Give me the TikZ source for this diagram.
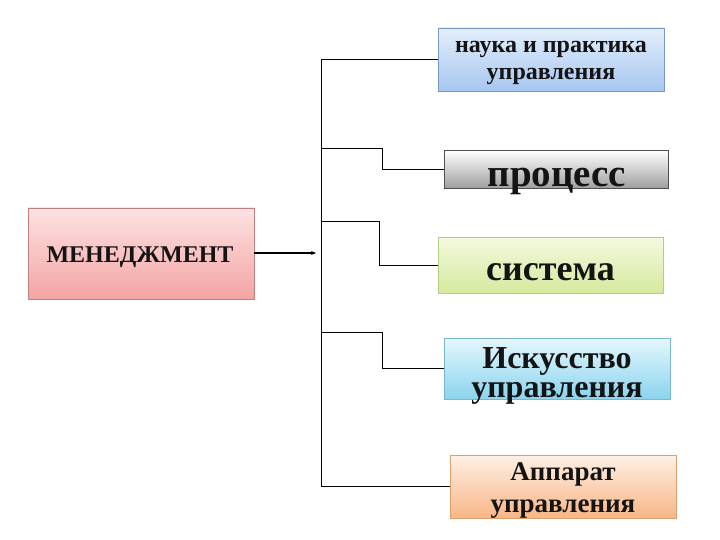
\documentclass[tikz,border=0pt]{standalone}
\usepackage{fontspec}
\setmainfont{Liberation Serif}
\usetikzlibrary{arrows.meta}
\definecolor{pinkT}{HTML}{FDE2E2}
\definecolor{pinkB}{HTML}{F4A4A4}
\definecolor{pinkD}{HTML}{C08080}
\definecolor{blueT}{HTML}{E4EFFC}
\definecolor{blueB}{HTML}{A6C6F0}
\definecolor{blueD}{HTML}{7A98C4}
\definecolor{grayT}{HTML}{FFFFFF}
\definecolor{grayB}{HTML}{9E9E9E}
\definecolor{grayD}{HTML}{505050}
\definecolor{greenT}{HTML}{F4F9DE}
\definecolor{greenB}{HTML}{D4EA9E}
\definecolor{greenD}{HTML}{B4CC86}
\definecolor{cyanT}{HTML}{E6F7FD}
\definecolor{cyanB}{HTML}{8AD4EE}
\definecolor{cyanD}{HTML}{7CB6CE}
\definecolor{orT}{HTML}{FEF0E4}
\definecolor{orB}{HTML}{F8B686}
\definecolor{orD}{HTML}{DCA070}
\tikzset{
  box/.style={draw, line width=0.8pt, inner sep=0pt, rectangle},
  lbl/.style={inner sep=0pt, anchor=base, font=\bfseries, text=black!92, align=center},
  conn/.style={draw=black, line width=0.9pt},
}
\begin{document}
\begin{tikzpicture}[x=1pt,y=-1pt]
\useasboundingbox (0,0) rectangle (720,540);
% boxes
\node[box, draw=pinkD, top color=pinkT, bottom color=pinkB, minimum width=226pt, minimum height=91pt] (L) at (141,253.5) {};
\node[box, draw=blueD, top color=blueT, bottom color=blueB, minimum width=226pt, minimum height=63pt] (B1) at (551,59.5) {};
\node[box, draw=grayD, top color=grayT, bottom color=grayB, minimum width=224pt, minimum height=38pt] (B2) at (556,169.5) {};
\node[box, draw=greenD, top color=greenT, bottom color=greenB, minimum width=225pt, minimum height=56pt] (B3) at (550.5,265) {};
\node[box, draw=cyanD, top color=cyanT, bottom color=cyanB, minimum width=226pt, minimum height=61pt] (B4) at (557,368.5) {};
\node[box, draw=orD, top color=orT, bottom color=orB, minimum width=226pt, minimum height=63pt] (B5) at (563,486.5) {};
% texts
\node[lbl, font=\bfseries\fontsize{24}{26}\selectfont] (tL) at (140,262) {МЕНЕДЖМЕНТ};
\node[lbl, font=\bfseries\fontsize{24}{27}\selectfont] (t1) at (551,80) {наука и практика\\управления};
\node[lbl, font=\bfseries\fontsize{39}{44}\selectfont] (t2) at (557,187) {процесс};
\node[lbl, font=\bfseries\fontsize{36}{38}\selectfont] (t3) at (550.5,280) {система};
\node[lbl, font=\bfseries\fontsize{32}{29}\selectfont] (t4) at (557,397) {Искусство\\управления};
\node[lbl, font=\bfseries\fontsize{27}{32}\selectfont] (t5) at (563,512) {Аппарат\\управления};
% trunk coordinates
\coordinate (a1) at (321,59.5);
\coordinate (a2) at (321,148);
\coordinate (a3) at (321,221);
\coordinate (a4) at (321,332);
\coordinate (a5) at (321,486.5);
\coordinate (e2) at (382,148);
\coordinate (e3) at (379,221);
\coordinate (e4) at (382,332);
\coordinate (arr) at (316,253);
% connectors
\draw[conn] (a1) -- (a5);
\draw[conn] (a1) -- (B1.west);
\draw[conn] (a2) -- (e2) |- (B2.west);
\draw[conn] (a3) -- (e3) |- (B3.west);
\draw[conn] (a4) -- (e4) |- (B4.west);
\draw[conn] (a5) -- (B5.west);
\draw[line width=1.4pt, -{Stealth[length=5pt,width=4pt]}] (L.east |- arr) -- (arr);
\end{tikzpicture}
\end{document}
